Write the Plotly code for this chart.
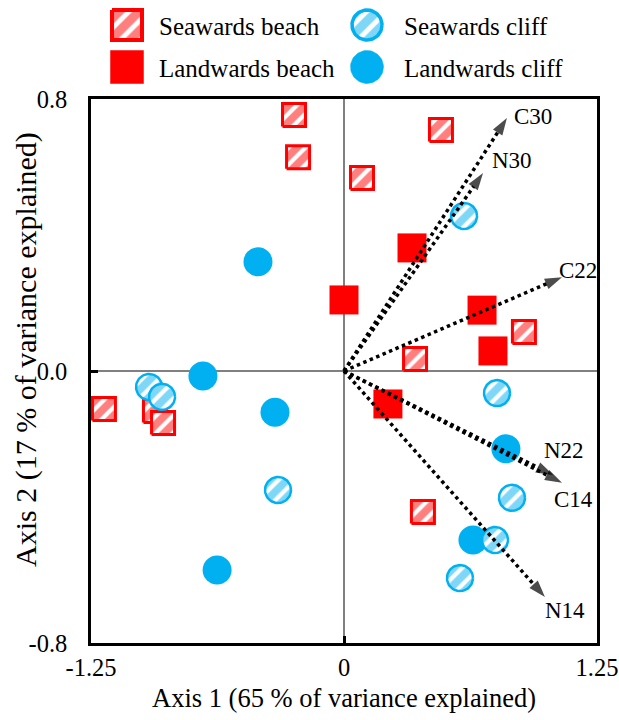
import numpy as np
import plotly.graph_objects as go

# ---- ordination scores -------------------------------------------------
seaward_beach_x = [-0.247, -0.227, 0.089, 0.479, 0.351, 0.889, -1.186, -0.934, -0.894, 0.390]
seaward_beach_y = [0.753, 0.629, 0.568, 0.709, 0.035, 0.115, -0.112, -0.118, -0.153, -0.415]

landward_beach_x = [0.000, 0.336, 0.682, 0.736, 0.217]
landward_beach_y = [0.209, 0.362, 0.179, 0.059, -0.097]

seaward_cliff_x = [0.593, 0.756, 0.830, 0.746, 0.573, -0.963, -0.899, -0.326]
seaward_cliff_y = [0.456, -0.065, -0.373, -0.497, -0.609, -0.047, -0.076, -0.350]

landward_cliff_x = [-0.425, -0.697, -0.341, -0.627, 0.800, 0.637]
landward_cliff_y = [0.321, -0.015, -0.121, -0.585, -0.229, -0.497]

# ---- variable vectors --------------------------------------------------
vector_names = ["C30", "N30", "C22", "N22", "C14", "N14"]
vector_x = [0.805, 0.687, 1.077, 1.033, 1.077, 0.993]
vector_y = [0.744, 0.582, 0.276, -0.306, -0.329, -0.665]

legend_labels = ["Seawards beach", "Landwards beach", "Seawards cliff", "Landwards cliff"]

x_ticks = [-1.25, 0, 1.25]
x_tick_text = ["-1.25", "0", "1.25"]
y_ticks = [-0.8, 0.0, 0.8]
y_tick_text = ["-0.8", "0.0", "0.8"]

# ---- page geometry -----------------------------------------------------
W, H = 619, 720
M_L, M_R, M_B, M_T = 91, 22, 77, 0
PLOT_TOP = 99                      # px from page top where the main axes start
X_RANGE = [-1.25, 1.25]
Y_RANGE = [-0.8, 0.8]
plot_w = W - M_L - M_R
plot_h_total = H - M_B - M_T
main_h = plot_h_total - (PLOT_TOP - M_T)
SX = (X_RANGE[1] - X_RANGE[0]) / plot_w   # data units per px
SY = (Y_RANGE[1] - Y_RANGE[0]) / main_h
LEG_H = 95                          # legend strip height (px)

RED = "#FF0000"
BLUE = "#00B0F0"
FONT = "Liberation Serif"


def square_poly(cx, cy, half, sx, sy):
    dx, dy = half * sx, half * sy
    return ([cx - dx, cx + dx, cx + dx, cx - dx, cx - dx],
            [cy - dy, cy - dy, cy + dy, cy + dy, cy - dy])


def circle_poly(cx, cy, r, sx, sy, n=60):
    t = np.linspace(0, 2 * np.pi, n + 1)
    return list(cx + r * sx * np.cos(t)), list(cy + r * sy * np.sin(t))


def hatched(xs, ys, color, width, xa="x", ya="y", size=12):
    return go.Scatter(
        x=xs, y=ys, mode="lines", fill="toself",
        fillcolor="white",
        fillpattern=dict(shape="/", fgcolor=color, bgcolor="white",
                         size=size, solidity=0.65),
        line=dict(color=color, width=width),
        xaxis=xa, yaxis=ya, showlegend=False, hoverinfo="skip",
    )


fig = go.Figure()

# seawards beach: hatched squares
for x, y in zip(seaward_beach_x, seaward_beach_y):
    px_, py_ = square_poly(x, y, 11.5, SX, SY)
    fig.add_trace(hatched(px_, py_, RED, 3))

# landwards beach: solid squares
fig.add_trace(go.Scatter(
    x=landward_beach_x, y=landward_beach_y, mode="markers",
    marker=dict(symbol="square", size=29, color=RED, line=dict(width=0)),
    showlegend=False, hoverinfo="skip"))

# landwards cliff: solid circles
fig.add_trace(go.Scatter(
    x=landward_cliff_x, y=landward_cliff_y, mode="markers",
    marker=dict(symbol="circle", size=29, color=BLUE, line=dict(width=0)),
    showlegend=False, hoverinfo="skip"))

# seawards cliff: hatched circles
for x, y in zip(seaward_cliff_x, seaward_cliff_y):
    px_, py_ = circle_poly(x, y, 13, SX, SY)
    fig.add_trace(hatched(px_, py_, BLUE, 2.5))

# variable vectors with arrow heads
for name, vx, vy in zip(vector_names, vector_x, vector_y):
    fig.add_trace(go.Scatter(
        x=[0, vx], y=[0, vy], mode="lines+markers",
        line=dict(color="black", width=3.5, dash="3.5px,3.5px"),
        marker=dict(symbol=["circle", "arrow"], size=[0, 18], color="black",
                    angleref="previous", line=dict(width=0)),
        showlegend=False, hoverinfo="skip"))

label_shift = {
    "C30": (5, 2), "N30": (7, 13), "C22": (-5, 7),
    "N22": (-11, 25), "C14": (-10, -17), "N14": (-2, -13),
}
annotations = []
for name, vx, vy in zip(vector_names, vector_x, vector_y):
    dx, dy = label_shift[name]
    annotations.append(dict(
        x=vx, y=vy, xref="x", yref="y", text=name, showarrow=False,
        xanchor="left", yanchor="middle", xshift=dx, yshift=dy,
        font=dict(family=FONT, size=23, color="black")))

# ---- legend drawn on a pixel-unit helper axis --------------------------
leg_sym_x = [127, 127, 367, 367]
leg_sym_y = [25, 67, 25, 67]
leg_text_x = [157, 157, 402, 402]

sq_x, sq_y = square_poly(leg_sym_x[0], leg_sym_y[0], 15, 1, 1)
fig.add_trace(hatched(sq_x, sq_y, RED, 4, "x2", "y2", size=14))
sq_x, sq_y = square_poly(leg_sym_x[1], leg_sym_y[1], 16.5, 1, 1)
fig.add_trace(go.Scatter(x=sq_x, y=sq_y, mode="lines", fill="toself",
                         fillcolor=RED, line=dict(color=RED, width=0.5),
                         xaxis="x2", yaxis="y2", showlegend=False, hoverinfo="skip"))
c_x, c_y = circle_poly(leg_sym_x[2], leg_sym_y[2], 15, 1, 1)
fig.add_trace(hatched(c_x, c_y, BLUE, 3.5, "x2", "y2", size=14))
c_x, c_y = circle_poly(leg_sym_x[3], leg_sym_y[3], 16.5, 1, 1)
fig.add_trace(go.Scatter(x=c_x, y=c_y, mode="lines", fill="toself",
                         fillcolor=BLUE, line=dict(color=BLUE, width=0.5),
                         xaxis="x2", yaxis="y2", showlegend=False, hoverinfo="skip"))

for slot, label in enumerate(legend_labels):
    annotations.append(dict(
        x=leg_text_x[slot], y=leg_sym_y[slot] + 1, xref="x2", yref="y2",
        text=label, showarrow=False, xanchor="left", yanchor="middle",
        font=dict(family=FONT, size=25, color="black")))

# axis titles
annotations.append(dict(
    x=0.5, y=-(698 - PLOT_TOP - main_h) / plot_h_total, xref="paper", yref="paper",
    text="Axis 1 (65 % of variance explained)", showarrow=False,
    xanchor="center", yanchor="middle",
    font=dict(family=FONT, size=26.5, color="black")))
annotations.append(dict(
    x=-(M_L - 26) / plot_w, y=(H - M_B - 350) / plot_h_total, xref="paper", yref="paper",
    text="Axis 2 (17 % of variance explained)", showarrow=False, textangle=-90,
    xanchor="center", yanchor="middle",
    font=dict(family=FONT, size=30, color="black")))

axis_common = dict(
    showgrid=False, zeroline=True, zerolinecolor="#808080", zerolinewidth=2,
    showline=True, mirror=True, linecolor="black", linewidth=2.5,
    ticks="inside", ticklen=7, tickwidth=2.5, tickcolor="black",
    tickfont=dict(family=FONT, size=24.5, color="black"),
)

fig.update_layout(
    width=W, height=H,
    margin=dict(l=M_L, r=M_R, t=M_T, b=M_B, autoexpand=False),
    paper_bgcolor="white", plot_bgcolor="white",
    showlegend=False,
    xaxis=dict(range=X_RANGE, tickvals=x_ticks, ticktext=x_tick_text,
               ticklabelstandoff=1, anchor="y", **axis_common),
    yaxis=dict(range=Y_RANGE, tickvals=y_ticks, ticktext=y_tick_text,
               domain=[0, main_h / plot_h_total], ticklabelstandoff=16,
               anchor="x", **axis_common),
    xaxis2=dict(range=[M_L, W - M_R], visible=False, anchor="y2", domain=[0, 1]),
    yaxis2=dict(range=[LEG_H, 0], visible=False, anchor="x2",
                domain=[1 - LEG_H / plot_h_total, 1]),
    annotations=annotations,
)

fig.write_html("out.html")
